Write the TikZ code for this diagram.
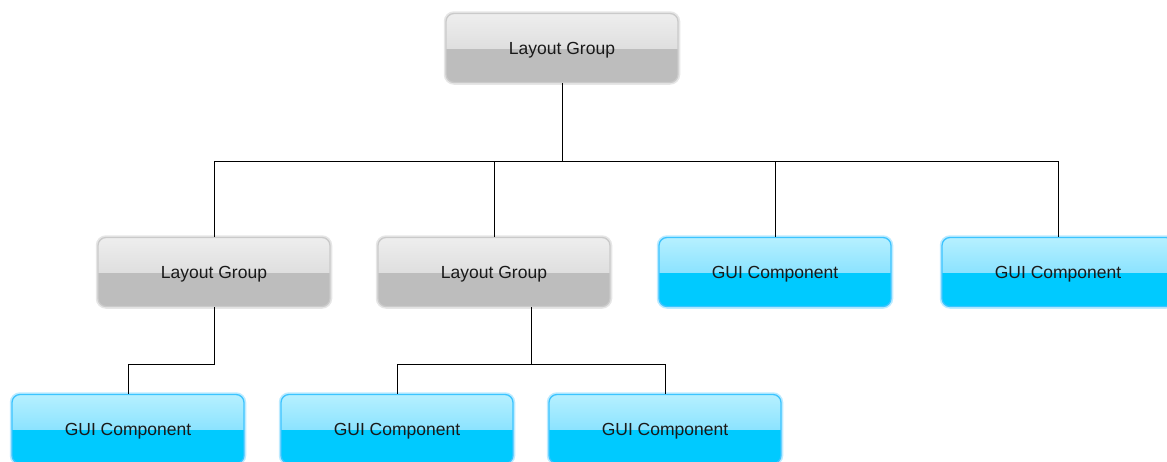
\documentclass[tikz,border=0pt]{standalone}
\usepackage{fontspec}
\setmainfont{Liberation Sans}
\definecolor{gtop}{HTML}{EEEEEE}
\definecolor{gmid}{HTML}{DFDFDF}
\definecolor{gbot}{HTML}{BDBDBD}
\definecolor{gline}{HTML}{CACACA}
\definecolor{ghalo}{HTML}{E6E6E6}
\definecolor{btop}{HTML}{B6F0FF}
\definecolor{bmid}{HTML}{8CE3FF}
\definecolor{bbot}{HTML}{00CAFF}
\definecolor{bline}{HTML}{3CC4FF}
\definecolor{bhalo}{HTML}{BDEBFF}
\tikzset{
  box/.style={rounded corners=8pt, minimum width=232pt, minimum height=69pt,
    inner sep=0pt, text depth=0pt, font=\fontsize{17.5}{20}\selectfont, text=black!90},
  lgbox/.style={box, draw=gline, line width=1.3pt,
    preaction={draw=ghalo, line width=4.5pt},
    path picture={
      \fill[gbot, sharp corners] ([yshift=1pt]path picture bounding box.west) rectangle (path picture bounding box.south east);
      \fill[top color=gtop, bottom color=gmid, sharp corners] (path picture bounding box.north west) rectangle (path picture bounding box.east);}},
  guibox/.style={box, draw=bline, line width=1.3pt,
    preaction={draw=bhalo, line width=4.5pt},
    path picture={
      \fill[bbot, sharp corners] ([yshift=1pt]path picture bounding box.west) rectangle (path picture bounding box.south east);
      \fill[top color=btop, bottom color=bmid, sharp corners] (path picture bounding box.north west) rectangle (path picture bounding box.east);}},
  link/.style={draw=black, line width=1pt}
}
\begin{document}
\begin{tikzpicture}[x=1pt,y=-1pt]
\useasboundingbox (0,0) rectangle (1167,461);
\node[lgbox] (top) at (562,48) {Layout Group};
\node[lgbox] (lg1) at (214,272) {Layout Group};
\node[lgbox] (lg2) at (494,272) {Layout Group};
\node[guibox] (gui1) at (775,272) {GUI Component};
\node[guibox] (gui2) at (1058,272) {GUI Component};
\node[guibox] (gui3) at (128,429) {GUI Component};
\node[guibox] (gui4) at (397,429) {GUI Component};
\node[guibox] (gui5) at (665,429) {GUI Component};
\coordinate (lg2b) at (531,307);
\draw[link] (top.south) -- ++(0,78) -| (lg1.north);
\draw[link] (top.south) -- ++(0,78) -| (lg2.north);
\draw[link] (top.south) -- ++(0,78) -| (gui1.north);
\draw[link] (top.south) -- ++(0,78) -| (gui2.north);
\draw[link] (lg1.south) -- ++(0,57) -| (gui3.north);
\draw[link] (lg2b) -- ++(0,57) -| (gui4.north);
\draw[link] (lg2b) -- ++(0,57) -| (gui5.north);
\end{tikzpicture}
\end{document}
